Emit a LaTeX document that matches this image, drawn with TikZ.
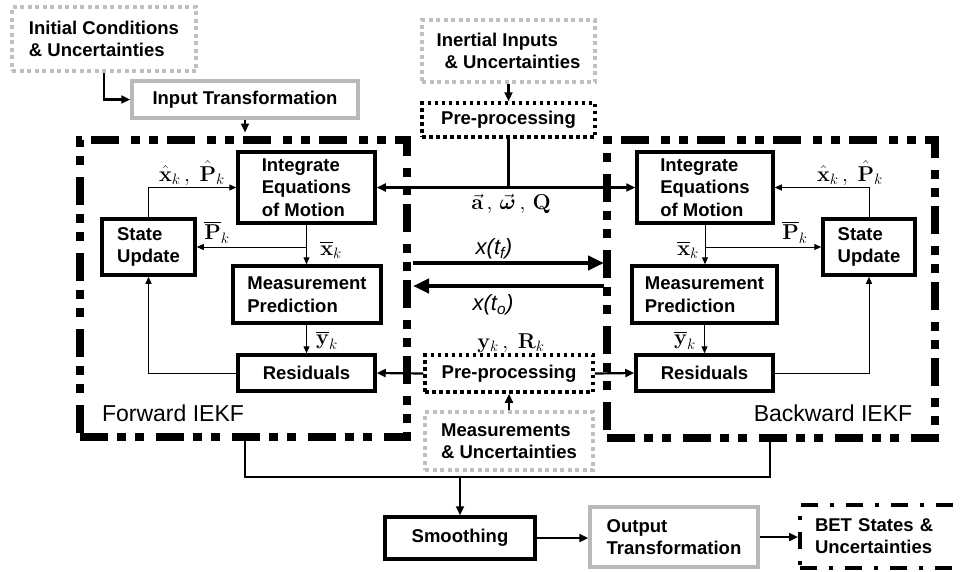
\RequirePackage{fix-cm}
\documentclass[tikz,border=0pt]{standalone}
\usepackage{amsmath}
\usepackage[no-math]{fontspec}
\setmainfont{Liberation Sans}
\usetikzlibrary{arrows.meta}
\definecolor{lgray}{RGB}{192,192,192}
\definecolor{mgray}{RGB}{185,185,185}
\begin{document}
\begin{tikzpicture}[x=1pt,y=-1pt,
  txt/.style={font=\fontsize{18.5}{22.5}\selectfont\bfseries, align=left, inner sep=0pt},
  blk/.style={txt, draw=black, line width=3.5pt, fill=white},
  gsolid/.style={txt, draw=mgray, line width=3.5pt, fill=white},
  gdot/.style={txt, draw=lgray, line width=4pt, dash pattern=on 4pt off 3.5pt},
  bdot/.style={txt, draw=black, line width=3.5pt, dash pattern=on 3.5pt off 3.5pt},
  dashdot/.style={txt, draw=black, line width=4pt, dash pattern=on 17pt off 12pt on 4pt off 12pt},
  iekf/.style={draw, line width=7.5pt, dash pattern=on 28pt off 9pt on 9pt off 9pt on 9pt off 12pt},
  thin/.style={line width=1pt, -{Triangle[length=7pt,width=6pt]}},
  med/.style={line width=2.2pt, -{Triangle[length=9pt,width=8pt]}},
  big/.style={line width=4pt, -{Triangle[length=16pt,width=14pt]}},
  mlab/.style={font=\fontsize{21.5}{24}\selectfont, inner sep=0pt},
  ilab/.style={font=\fontsize{22}{24}\selectfont\itshape, inner sep=0pt},
  blab/.style={font=\fontsize{23}{26}\selectfont, inner sep=0pt},
  ]
\useasboundingbox (0,0) rectangle (963,571);

% IEKF frames
\node[iekf, minimum width=327pt, minimum height=297pt] (fi) at (243.5,288.5) {};
\node[iekf, minimum width=328pt, minimum height=298pt] (bi) at (771,289) {};
\node[blab] (fl) at (173,413) {Forward IEKF};
\node[blab] (bl) at (833,413) {Backward IEKF};

% top left
\node[gdot, minimum width=184pt, minimum height=64pt] (ic) at (104,39) {Initial Conditions\\\& Uncertainties};
\node[gsolid, minimum width=226pt, minimum height=37pt] (it) at (245,99.5) {Input Transformation};

% forward filter
\node[blk, minimum width=137pt, minimum height=71pt] (fint) at (306.5,187.5) {Integrate\\Equations\\of Motion};
\node[blk, minimum width=93pt, minimum height=56pt] (fsu) at (148.5,247) {State\\Update};
\node[blk, minimum width=148pt, minimum height=57pt] (fmp) at (307,294.5) {Measurement\\Prediction};
\node[blk, minimum width=137pt, minimum height=36pt] (fres) at (306.5,373) {Residuals};

% backward filter
\node[blk, minimum width=136pt, minimum height=71pt] (bint) at (705,187.5) {Integrate\\Equations\\of Motion};
\node[blk, minimum width=92pt, minimum height=56pt] (bsu) at (869,247) {State\\Update};
\node[blk, minimum width=145pt, minimum height=57pt] (bmp) at (704.5,294.5) {Measurement\\Prediction};
\node[blk, minimum width=137pt, minimum height=36pt] (bres) at (704.5,373) {Residuals};

% centre
\node[gdot, minimum width=173pt, minimum height=62pt] (ii) at (508.5,51) {Inertial Inputs\\\hspace*{8pt}\& Uncertainties};
\node[bdot, minimum width=173pt, minimum height=34pt] (ppt) at (508.5,120) {Pre-processing};
\node[bdot, minimum width=168pt, minimum height=37pt] (ppb) at (509,373.5) {Pre-processing};
\node[gdot, minimum width=168pt, minimum height=58pt] (meas) at (509,441) {Measurements\\\& Uncertainties};

% bottom
\node[blk, minimum width=150pt, minimum height=42pt] (sm) at (460,538) {Smoothing};
\node[gsolid, minimum width=168pt, minimum height=60pt] (ot) at (674,537) {Output\\Transformation};
\node[dashdot, minimum width=180pt, minimum height=63pt, text width=150pt] (bet) at (890,536) {BET States \&\\Uncertainties};

% connectors top left
\draw[med] (ic.south) |- (it.west);
\draw[med] (it.south) -- ([yshift=3.75pt]it.south |- fi.north);

% forward connectors
\draw[thin] (fsu.north) |- (fint.west);
\draw[thin] (fint.south) -- (fint.south |- fmp.north);
\draw[thin] (fint.south |- fsu.east) -- (fsu.east);
\draw[thin] (fres.north |- fmp.south) -- (fres.north);
\draw[thin] (fres.west) -| (fsu.south);

% backward connectors
\draw[thin] (bsu.north) |- (bint.east);
\draw[thin] (bint.south) -- (bint.south |- bmp.north);
\draw[thin] (bint.south |- bsu.west) -- (bsu.west);
\draw[thin] (bres.north |- bmp.south) -- (bres.north);
\draw[thin] (bres.east) -| (bsu.south);

% centre connectors
\draw[med] (ii.south) -- (ppt.north);
\draw[line width=2.2pt, {Triangle[length=9pt,width=8pt]}-{Triangle[length=9pt,width=8pt]}] (fint.east) -- (bint.west);
\draw[line width=2.2pt] (ppt.south) -- (ppt.south |- fint.east);
\draw[med] (ppb.west) -- (fres.east);
\draw[med] (ppb.east) -- (bres.west);
\draw[med] (meas.north) -- (ppb.south);

\coordinate (xfa) at (413,263);
\coordinate (xfb) at (604,263);
\coordinate (xoa) at (604,286);
\coordinate (xob) at (413,286);
\draw[big] (xfa) -- (xfb);
\draw[big] (xoa) -- (xob);

% bottom connectors
\coordinate (fbot) at (245,437);
\coordinate (bbot) at (770,438);
\coordinate (jl) at (245,477);
\coordinate (jr) at (770,477);
\draw[line width=2.2pt] (fbot) -- (jl) -- (jr) -- (bbot);
\draw[med] (sm.north |- jl) -- (sm.north);
\draw[med] (sm.east) -- (sm.east -| ot.west);
\draw[med] (ot.east) -- (ot.east -| bet.west);

% labels
\node[mlab] (lf1) at (192,173) {$\hat{\mathbf{x}}_k\,,\;\hat{\mathbf{P}}_k$};
\node[mlab] (lf2) at (217,232) {$\overline{\mathbf{P}}_k$};
\node[mlab] (lf3) at (331,250) {$\overline{\mathbf{x}}_k$};
\node[mlab] (lf4) at (327,340) {$\overline{\mathbf{y}}_k$};
\node[mlab] (lb1) at (850,173) {$\hat{\mathbf{x}}_k\,,\;\hat{\mathbf{P}}_k$};
\node[mlab] (lb2) at (795,232) {$\overline{\mathbf{P}}_k$};
\node[mlab] (lb3) at (688,250) {$\overline{\mathbf{x}}_k$};
\node[mlab] (lb4) at (685,340) {$\overline{\mathbf{y}}_k$};
\node[mlab] (lc1) at (511,204) {$\vec{\mathbf{a}}\,,\,\vec{\boldsymbol{\omega}}\,,\,\mathbf{Q}$};
\node[mlab] (lc2) at (511,343) {$\mathbf{y}_k\,,\;\mathbf{R}_k$};
\node[ilab] (lxf) at (494,249) {x(t\textsubscript{f})};
\node[ilab] (lxo) at (493,305) {x(t\textsubscript{o})};
\end{tikzpicture}
\end{document}
